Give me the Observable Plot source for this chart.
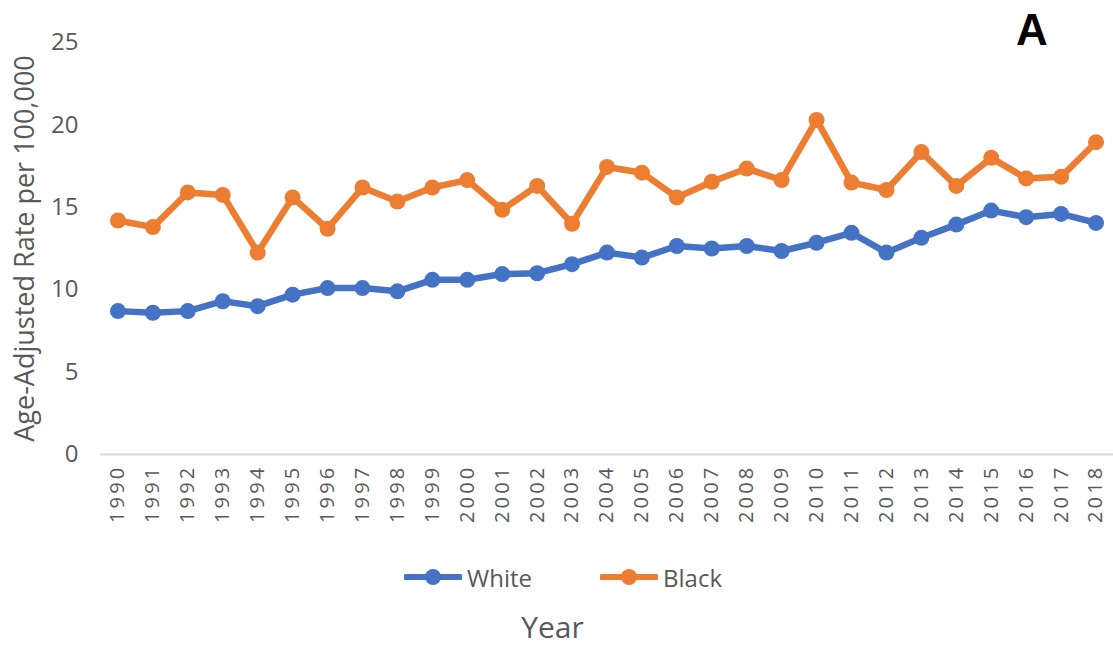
<!DOCTYPE html>
<html><head><meta charset="utf-8">
<script src="https://cdn.jsdelivr.net/npm/d3@7"></script>
<script src="https://cdn.jsdelivr.net/npm/@observablehq/plot@0.6"></script>
<style>
body{margin:0;background:#fff;font-family:"Open Sans",sans-serif;}
#wrap{position:relative;width:1113px;height:646px;overflow:hidden;}
#wrap svg.plot{position:absolute;left:0;top:0;}
[aria-label="y-axis label"]{font-size:27px;}
[aria-label="x-axis tick label"] text{letter-spacing:3.2px;}
#tag{position:absolute;left:1016px;top:5px;font:bold 44px "Liberation Sans",Arial,sans-serif;color:#000;}
#legend{position:absolute;top:560px;left:0;width:1113px;height:34px;}
.item{position:absolute;top:0;display:flex;align-items:center;height:34px;font-size:24px;color:#595959;}
#xtitle{position:absolute;top:606px;left:0;width:1105px;text-align:center;font-size:30px;color:#595959;}
</style></head><body>
<div id="wrap"></div>
<script>
const years = [1990,1991,1992,1993,1994,1995,1996,1997,1998,1999,2000,2001,2002,2003,2004,2005,2006,2007,2008,2009,2010,2011,2012,2013,2014,2015,2016,2017,2018];
const white = [8.7,8.6,8.7,9.3,9.0,9.7,10.1,10.1,9.9,10.6,10.6,10.95,11.0,11.55,12.25,11.95,12.65,12.5,12.65,12.35,12.85,13.45,12.25,13.15,13.95,14.8,14.4,14.6,14.05];
const black = [14.2,13.8,15.9,15.75,12.25,15.6,13.7,16.2,15.35,16.2,16.65,14.85,16.3,14.0,17.45,17.1,15.6,16.55,17.35,16.65,20.3,16.5,16.05,18.35,16.3,18.0,16.75,16.85,18.95];
const seriesNames = ["White","Black"];
const seriesColors = ["#4472C4","#ED7D31"];
const yTicks = [0,5,10,15,20,25];
const yLabel = "Age-Adjusted Rate per 100,000";
const xTitle = "Year";
const panelTag = "A";

const data = [];
years.forEach((yr,i)=>{
  data.push({year:yr, value:white[i], series:"White"});
  data.push({year:yr, value:black[i], series:"Black"});
});

const chart = Plot.plot({
  width:1113, height:530,
  marginLeft:100, marginRight:0, marginTop:42, marginBottom:76,
  style:{fontFamily:"'Open Sans', sans-serif", color:"#595959", background:"transparent"},
  x:{type:"point", domain:years, padding:0.5, round:false},
  y:{domain:[0,25]},
  color:{type:"ordinal", domain:seriesNames, range:seriesColors},
  marks:[
    Plot.axisY({ticks:yTicks, tickSize:0, tickPadding:22, fontSize:24, label:yLabel, labelAnchor:"center", labelArrow:"none", labelOffset:86}),
    Plot.axisX({tickSize:0, tickRotate:-90, tickPadding:10, fontSize:20, label:null, tickFormat:d=>String(d)}),
    Plot.ruleY([0],{stroke:"#d9d9d9", strokeWidth:2}),
    Plot.line(data,{x:"year", y:"value", z:"series", stroke:{value:"series", scale:"color"}, strokeWidth:6.5, strokeLinejoin:"round"}),
    Plot.dot(data,{x:"year", y:"value", fill:{value:"series", scale:"color"}, r:8})
  ]
});
const wrap = document.getElementById("wrap");
wrap.appendChild(chart);

const tag = document.createElement("div");
tag.id="tag"; tag.textContent=panelTag; wrap.appendChild(tag);

const legend = document.createElement("div");
legend.id="legend";
const lefts=[404,600];
seriesNames.forEach((n,i)=>{
  const it=document.createElement("div");
  it.className="item"; it.style.left=lefts[i]+"px";
  it.innerHTML=`<svg width="58" height="20" style="margin-right:5px"><line x1="2" y1="10" x2="56" y2="10" stroke="${seriesColors[i]}" stroke-width="6" stroke-linecap="round"/><circle cx="29" cy="10" r="8" fill="${seriesColors[i]}"/></svg><span>${n}</span>`;
  legend.appendChild(it);
});
wrap.appendChild(legend);

const xt=document.createElement("div");
xt.id="xtitle"; xt.textContent=xTitle; wrap.appendChild(xt);
</script>
</body></html>
